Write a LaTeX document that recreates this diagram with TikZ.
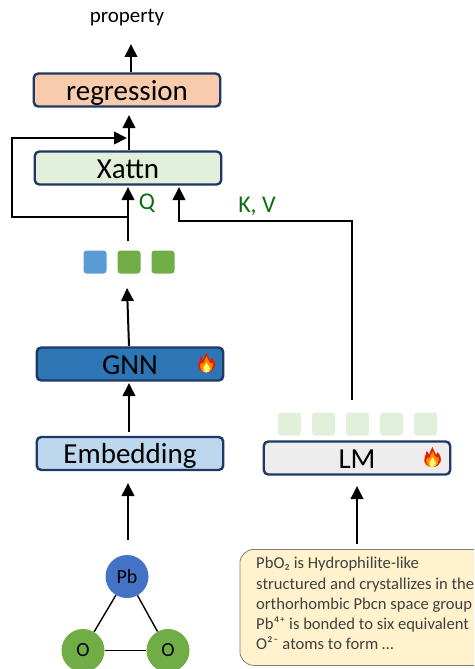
\documentclass[tikz,border=0pt]{standalone}
\usepackage{fontspec}
\setmainfont{Carlito}
\usetikzlibrary{arrows.meta}
\definecolor{edgeblue}{HTML}{1F3864}
\definecolor{keyv}{HTML}{0B6E0B}
\tikzset{
  blockbox/.style={draw=edgeblue,line width=2.4pt,rounded corners=4.5pt,minimum width=186.5pt,minimum height=33pt,inner sep=0pt,text=black,text height=20pt,text depth=0pt,font=\fontsize{29}{32}\selectfont},
  tok/.style={rounded corners=3pt,minimum width=23pt,minimum height=23pt,inner sep=0pt},
  flow/.style={line width=2pt,-{Triangle[length=13pt,width=12.5pt]}},
  atom/.style={circle,minimum size=43pt,inner sep=0pt,text=black,font=\fontsize{20}{22}\selectfont},
  bond/.style={line width=1.4pt},
  greenlabel/.style={text=keyv,inner sep=0pt,font=\fontsize{24}{28}\selectfont},
}
\newcommand{\flameicon}[2]{%
  \begin{scope}[shift={(#1,#2)},x=1pt,y=-1pt]
    \fill[red!75!orange!90!black] (0,10) .. controls (-6,10) and (-9,6) .. (-8,1) .. controls (-7.5,-2) and (-6,-3) .. (-6,-6) .. controls (-4,-5) and (-4,-3) .. (-3.5,-2) .. controls (-2,-5) and (-2,-8) .. (0,-10) .. controls (0,-7) and (3,-5) .. (4,-2) .. controls (5,-3) and (5,-4) .. (5,-5) .. controls (8,-2) and (9,2) .. (8,5) .. controls (7,8) and (4,10) .. (0,10) -- cycle;
    \fill[orange!90!yellow] (0,10) .. controls (-5,10) and (-7,6) .. (-6,2) .. controls (-5,0) and (-4,0) .. (-3,1) .. controls (-2,-2) and (-1,-4) .. (0,-6) .. controls (1,-3) and (3,-1) .. (4,1) .. controls (5,0) and (5,0) .. (6,0) .. controls (7,4) and (5,10) .. (0,10) -- cycle;
    \fill[yellow!55!white] (0,10) .. controls (-3,10) and (-4,7) .. (-3,5) .. controls (-2,3) and (-1,2) .. (0,0) .. controls (1,2) and (3,4) .. (3.5,6) .. controls (4,8) and (2,10) .. (0,10) -- cycle;
  \end{scope}}
\begin{document}
\begin{tikzpicture}[x=1pt,y=-1pt]
\useasboundingbox (0,0) rectangle (474,669);
% blocks
\node[blockbox,fill={rgb,255:red,248;green,203;blue,173}] (reg) at (127,90) {regression};
\node[blockbox,fill={rgb,255:red,226;green,239;blue,218}] (xattn) at (128,168) {Xattn};
\node[blockbox,fill={rgb,255:red,46;green,117;blue,182}] (gnn) at (130,364) {GNN};
\node[blockbox,fill={rgb,255:red,189;green,215;blue,238}] (emb) at (130,453.5) {Embedding};
\node[blockbox,fill={rgb,255:red,237;green,237;blue,237}] (lm) at (357,458) {LM};
% tokens
\node[tok,fill={rgb,255:red,91;green,155;blue,213}] (t1) at (95,262) {};
\node[tok,fill={rgb,255:red,112;green,173;blue,71}] (t2) at (129,262) {};
\node[tok,fill={rgb,255:red,112;green,173;blue,71}] (t3) at (163,262) {};
\foreach \n/\x in {a/289.5,b/323.5,c/357.5,d/391.5,e/425.5}
  \node[tok,fill={rgb,255:red,226;green,239;blue,218}] (l\n) at (\x,424) {};
% text
\node[inner sep=0pt,font=\fontsize{21}{24}\selectfont] (prop) at (127,18) {property};
\node[greenlabel] (q) at (147,203) {Q};
\node[greenlabel] (kv) at (257,206) {K, V};
% description
\begin{scope}
\clip (0,0) rectangle (474,669);
\node[draw={rgb,255:red,127;green,127;blue,127},line width=0.8pt,fill={rgb,255:red,255;green,242;blue,204},rounded corners=14pt,anchor=north west,minimum width=250pt,minimum height=116pt] (desc) at (239.5,549) {};
\end{scope}
\node[anchor=north west,inner sep=0pt,text={rgb,255:red,64;green,64;blue,64},font=\fontsize{16.6}{20.3}\selectfont,align=left] (desctext) at (256,557) {PbO₂ is Hydrophilite-like\\structured and crystallizes in the\\orthorhombic Pbcn space group\\Pb⁴⁺ is bonded to six equivalent\\O²⁻ atoms to form …};
% atoms
\node[atom,fill={rgb,255:red,68;green,114;blue,196}] (pb) at (127,576.5) {Pb};
\node[atom,fill={rgb,255:red,112;green,173;blue,71}] (o1) at (83,650.5) {O};
\node[atom,fill={rgb,255:red,112;green,173;blue,71}] (o2) at (168,650.5) {O};
\draw[bond] (pb) -- (o1);
\draw[bond] (pb) -- (o2);
\draw[bond] (o1) -- (o2);
% connectors
\coordinate (propin) at (131,44);
\coordinate (regin) at (129,115);
\coordinate (fbtop) at (127,138);
\coordinate (fbtl) at (12,138);
\coordinate (fbbl) at (12,217);
\coordinate (fbj) at (128,217);
\coordinate (qs) at (128,241);
\coordinate (qe) at (128,187);
\coordinate (kve) at (179,187);
\coordinate (kvc) at (179,221);
\coordinate (kvr) at (352,221);
\coordinate (kvs) at (352,400);
\coordinate (gs) at (129,346);
\coordinate (ge) at (127,288);
\coordinate (es) at (129,432);
\coordinate (ee) at (129,383);
\coordinate (as) at (128,540);
\coordinate (ae) at (128,483);
\coordinate (ls) at (357,544);
\coordinate (le) at (357,486);
\draw[flow] (131,72) -- (propin);
\draw[flow] (129,150) -- (regin);
\draw[flow] (fbj) -- (fbbl) -- (fbtl) -- (fbtop);
\draw[flow] (qs) -- (qe);
\draw[flow] (kvs) -- (kvr) -- (kvc) -- (kve);
\draw[flow] (gs) -- (ge);
\draw[flow] (es) -- (ee);
\draw[flow] (as) -- (ae);
\draw[flow] (ls) -- (le);
% flames
\flameicon{206.5}{362.5}
\flameicon{432.5}{457}
\end{tikzpicture}
\end{document}
